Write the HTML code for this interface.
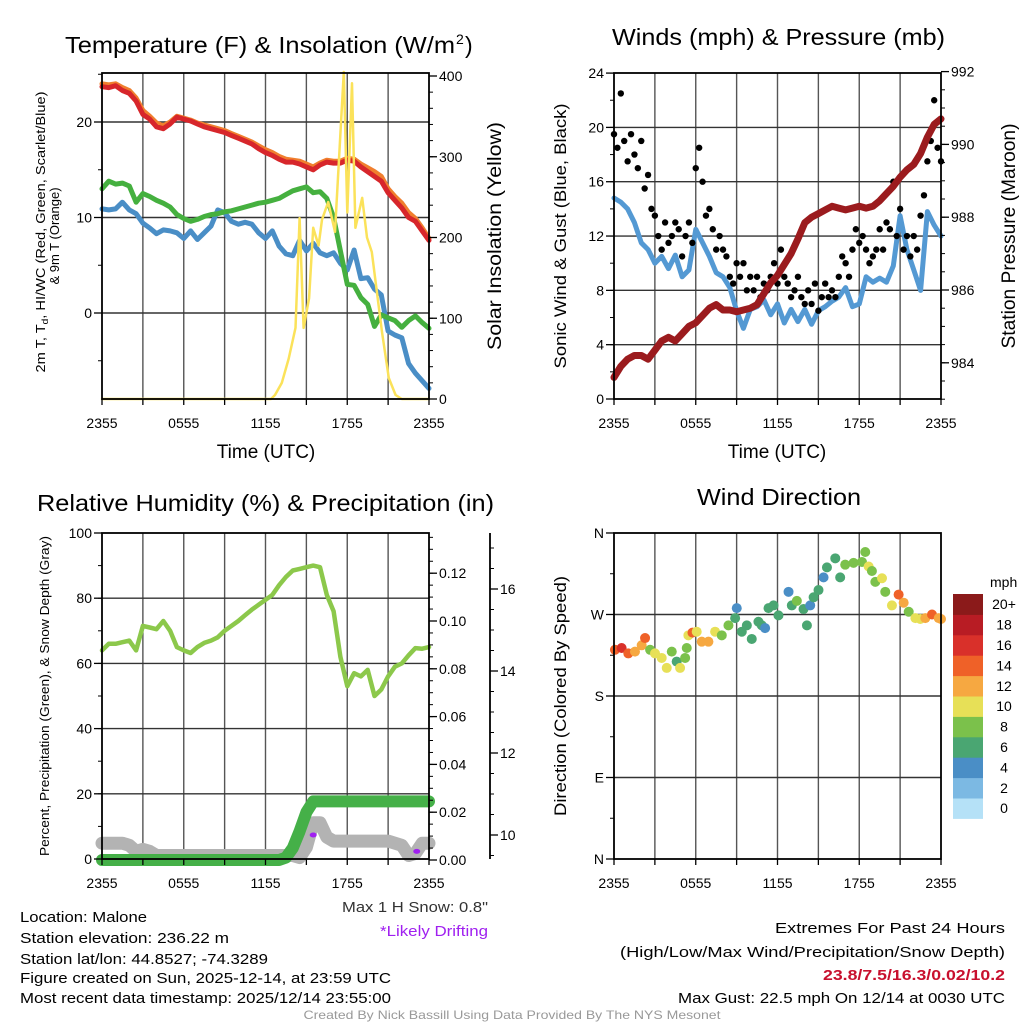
<!DOCTYPE html>
<html><head><meta charset="utf-8"><style>
html,body{margin:0;padding:0;background:#fff;}
svg{display:block;font-family:"Liberation Sans",Arial,sans-serif;}
</style></head><body>
<svg id="root" width="1024" height="1024" viewBox="0 0 1024 1024" xmlns="http://www.w3.org/2000/svg">
<rect width="1024" height="1024" fill="#fff"/>
<g id="layer-grid"></g>
<g id="layer-data"></g>
<g id="layer-axes"></g>
<g fill="#000">
<text x="65" y="53" font-size="23" textLength="390" lengthAdjust="spacingAndGlyphs">Temperature (F) &amp; Insolation (W/m</text>
<text x="456" y="44" font-size="14">2</text>
<text x="465" y="53" font-size="23">)</text>
<text x="612" y="45" font-size="23" textLength="333" lengthAdjust="spacingAndGlyphs">Winds (mph) &amp; Pressure (mb)</text>
<text x="37" y="511" font-size="23" textLength="457" lengthAdjust="spacingAndGlyphs">Relative Humidity (%) &amp; Precipitation (in)</text>
<text x="697" y="505" font-size="23" textLength="164" lengthAdjust="spacingAndGlyphs">Wind Direction</text>
</g>
<g fill="#000">
<text x="266" y="458" font-size="19" text-anchor="middle">Time (UTC)</text>
<text x="777" y="458" font-size="19" text-anchor="middle">Time (UTC)</text>
<text transform="translate(45,232) rotate(-90)" font-size="13" text-anchor="middle" textLength="281" lengthAdjust="spacingAndGlyphs">2m T, T<tspan font-size="9" dy="3">d</tspan><tspan dy="-3">, HI/WC (Red, Green, Scarlet/Blue)</tspan></text>
<text transform="translate(59,236) rotate(-90)" font-size="13" text-anchor="middle">&amp; 9m T (Orange)</text>
<text transform="translate(501,236) rotate(-90)" font-size="19" text-anchor="middle" textLength="228" lengthAdjust="spacingAndGlyphs">Solar Insolation (Yellow)</text>
<text transform="translate(566,236) rotate(-90)" font-size="17" text-anchor="middle" textLength="265" lengthAdjust="spacingAndGlyphs">Sonic Wind &amp; Gust (Blue, Black)</text>
<text transform="translate(1015,236) rotate(-90)" font-size="19" text-anchor="middle" textLength="225" lengthAdjust="spacingAndGlyphs">Station Pressure (Maroon)</text>
<text transform="translate(49,696) rotate(-90)" font-size="13" text-anchor="middle" textLength="320" lengthAdjust="spacingAndGlyphs">Percent, Precipitation (Green), &amp; Snow Depth (Gray)</text>
<text transform="translate(566,696) rotate(-90)" font-size="17" text-anchor="middle" textLength="240" lengthAdjust="spacingAndGlyphs">Direction (Colored By Speed)</text>
</g>
<g font-size="15" fill="#000">
<text x="488" y="912" text-anchor="end" fill="#333" textLength="146" lengthAdjust="spacingAndGlyphs">Max 1 H Snow: 0.8"</text>
<text x="488" y="936" text-anchor="end" fill="#a020f0" textLength="108" lengthAdjust="spacingAndGlyphs">*Likely Drifting</text>
<text x="20" y="922" textLength="127" lengthAdjust="spacingAndGlyphs">Location: Malone</text>
<text x="20" y="943" textLength="209" lengthAdjust="spacingAndGlyphs">Station elevation: 236.22 m</text>
<text x="20" y="964" textLength="248" lengthAdjust="spacingAndGlyphs">Station lat/lon: 44.8527; -74.3289</text>
<text x="20" y="983" textLength="371" lengthAdjust="spacingAndGlyphs">Figure created on Sun, 2025-12-14, at 23:59 UTC</text>
<text x="20" y="1003" textLength="371" lengthAdjust="spacingAndGlyphs">Most recent data timestamp: 2025/12/14 23:55:00</text>
<text x="1005" y="933" text-anchor="end" textLength="230" lengthAdjust="spacingAndGlyphs">Extremes For Past 24 Hours</text>
<text x="1005" y="957" text-anchor="end" textLength="385" lengthAdjust="spacingAndGlyphs">(High/Low/Max Wind/Precipitation/Snow Depth)</text>
<text x="1005" y="980" text-anchor="end" fill="#c8102e" font-weight="bold" textLength="182" lengthAdjust="spacingAndGlyphs">23.8/7.5/16.3/0.02/10.2</text>
<text x="1005" y="1003" text-anchor="end" textLength="327" lengthAdjust="spacingAndGlyphs">Max Gust: 22.5 mph On 12/14 at 0030 UTC</text>
<text x="512" y="1019" text-anchor="middle" font-size="12" fill="#999" textLength="417" lengthAdjust="spacingAndGlyphs">Created By Nick Bassill Using Data Provided By The NYS Mesonet</text>
</g>
</svg>
<script>
// ---------- DATA (30-minute steps starting 2355 UTC) ----------
const xTickLabels = ["2355","0555","1155","1755","2355"];
const tempF = [23.7,23.6,23.8,23.3,23,22.2,20.8,20.3,19.5,19.3,19.8,20.5,20.3,20.1,19.8,19.5,19.3,19.1,18.9,18.6,18.3,18.0,17.7,17.2,16.8,16.5,16.1,15.8,15.8,15.6,15.3,15.0,15.5,15.8,15.7,15.7,16.0,15.9,15.3,14.8,14.3,13.8,12.6,11.8,11.0,10.0,9.6,8.6,7.6];
const temp9mF = [24.0,23.9,24.0,23.6,23.3,22.5,21.2,20.6,19.9,19.6,20.0,20.6,20.4,20.2,19.9,19.7,19.5,19.3,19.1,18.8,18.5,18.2,17.9,17.5,17.1,16.8,16.4,16.1,16.0,15.9,15.6,15.3,15.7,16.0,15.9,15.9,16.2,16.1,15.6,15.2,14.8,14.3,13.0,12.2,11.5,10.5,9.9,8.9,7.8];
const dewpointF = [13.0,13.8,13.5,13.6,13.3,11.6,12.5,12.2,11.8,11.5,11.1,10.3,9.9,9.6,9.8,10.1,10.3,10.4,10.6,10.7,10.9,11.1,11.3,11.5,11.6,11.8,12.0,12.4,12.8,13.0,13.2,12.6,12.7,12.0,10.0,6.5,3.0,2.9,1.6,0.9,-1.4,-0.2,-0.5,-0.8,-1.5,-0.8,-0.3,-1.0,-1.6];
const windChillF = [10.9,10.8,10.9,11.6,10.8,10.4,9.4,8.9,8.3,8.7,8.6,8.4,7.8,8.6,7.7,8.4,9.1,10.8,10.5,9.6,9.3,9.5,9.3,8.4,7.8,8.6,7.0,6.2,6.0,7.6,6.5,7.3,6.3,6.0,6.3,5.2,4.5,6.6,3.6,3.7,2.5,1.9,-1.9,-2.3,-2.6,-5.3,-6.3,-7.1,-7.9];
const solarHours = [0,12.4,12.7,13.2,13.7,14.2,14.5,14.8,15.2,15.5,15.9,16.15,16.6,17.1,17.75,18.0,18.35,18.6,19.1,19.45,19.8,20.55,21.05,21.55,22.0,24];
const solarWm2 = [0,0,5,20,50,88,224,88,125,212,190,222,244,207,405,231,391,212,249,200,182,83,26,5,0,0];

const windMph = [14.8,14.5,14.0,13.0,11.5,11.0,10.0,10.5,9.6,10.6,9.0,9.5,12.5,11.5,10.5,9.3,9.0,8.2,6.5,5.2,6.6,6.8,7.3,6.2,7.0,5.6,6.6,5.7,6.6,5.5,6.5,6.8,7.2,7.5,8.2,6.8,7.0,9.0,8.6,8.9,8.6,9.8,13.5,11.0,9.5,8.0,13.8,12.8,12.0];
const pressureMb = [983.6,983.9,984.1,984.2,984.2,984.1,984.35,984.6,984.7,984.6,984.8,985.0,985.1,985.3,985.5,985.6,985.45,985.45,985.4,985.45,985.5,985.6,985.9,986.2,986.4,986.7,987.0,987.4,987.85,988.0,988.1,988.2,988.3,988.25,988.2,988.25,988.3,988.25,988.3,988.45,988.65,988.85,989.1,989.3,989.45,989.75,990.2,990.55,990.7];
// gusts every 15 minutes
const gustMph = [19.5,18.5,22.5,19,17.5,19.5,18,17,19,15.5,16.5,14,13.5,12,11,13,11.5,12,13,12.5,10.5,12,13,11.5,17,18.5,16,13.5,14,12.5,11,12,11,10.5,9,8.5,10,9,10,8,9,8,9,7.5,8.5,8,9,10,8.5,11,9,8.5,7.5,8,9,7.5,7,8,7,8.5,6.5,7.5,8.5,7.5,8,7.5,9,10.5,10,9,11,12.5,11.5,12,11,10,10.5,11,12.5,11,13,12.5,16,12,14,11,12,10.5,12,11,13.5,15,17.5,19,22,18.5,17.5];

const rhPct = [64,66,66,66.5,67,64,71.5,71,70.5,73,70,65,64,63.2,65,66.3,67,68,70,71.5,73,74.8,76.5,78,79.5,81,84,86.5,88.5,89,89.5,90,89.5,81,76,62,53,57,56,58,50,52,56,59,60,62.5,64.7,64.5,65];
const precipIn = [0,0,0,0,0,0,0,0,0,0,0,0,0,0,0,0,0,0,0,0,0,0,0,0,0,0,0,0.001,0.005,0.012,0.02,0.0245,0.0245,0.0245,0.0245,0.0245,0.0245,0.0245,0.0245,0.0245,0.0245,0.0245,0.0245,0.0245,0.0245,0.0245,0.0245,0.0245,0.0245];
const snowIn = [9.8,9.8,9.8,9.8,9.75,9.6,9.65,9.6,9.5,9.5,9.5,9.5,9.5,9.5,9.5,9.5,9.5,9.5,9.5,9.5,9.5,9.5,9.5,9.5,9.5,9.5,9.5,9.5,9.5,9.45,9.7,10.3,10.3,9.95,9.85,9.85,9.85,9.85,9.85,9.85,9.85,9.85,9.85,9.8,9.75,9.5,9.55,9.8,9.8];
const driftHours = [15.5,23.1];
const driftIn = [10.0,9.6];

const dirHours = [0.07,0.56,1.05,1.54,2.03,2.28,2.65,3.01,3.5,3.87,4.24,4.6,4.85,5.22,5.34,5.46,5.76,6.07,6.44,6.93,7.42,7.91,8.4,8.89,9.01,9.38,9.75,10.11,10.6,10.85,11.09,11.34,11.71,12.07,12.81,13.05,13.42,13.91,14.16,14.4,14.65,15.01,15.38,15.63,16.24,16.6,16.97,17.58,18.2,18.44,18.69,18.93,19.18,19.67,19.91,20.4,20.89,21.26,21.63,22.12,22.48,22.85,23.34,23.83,24];
const dirDeg = [231,233,227,229,236,244,231,227,222,211,229,218,211,222,233,247,250,251,240,240,251,247,258,266,277,251,258,243,262,258,255,277,280,269,295,280,285,276,258,280,289,297,311,322,332,311,325,327,328,339,323,318,306,310,295,280,292,283,273,266,265,266,270,266,265];
const dirSpeed = [15,17,14,12,12,14,9,10,10,10,8,7,10,8,8,10,14,10,12,12,10,8,8,7,4,6,6,6,7,6,4,6,6,6,4,6,8,6,6,4,6,6,4,6,6,6,8,8,8,8,10,8,8,10,8,10,15,12,8,10,10,12,15,13,12];
const speedBinLabels = ["0","2","4","6","8","10","12","14","16","18","20+"];
const speedBinColors = ["#b5e1f7","#7cb9e3","#4a8ec6","#4aa672","#7bc14b","#e7e057","#f6a841","#ef6128","#d9302a","#b81c24","#8b1a1a"];

const tempTicks = [0,10,20];
const solarTicks = [0,100,200,300,400];
const windTicks = [0,4,8,12,16,20,24];
const pressTicks = [984,986,988,990,992];
const rhTicks = [0,20,40,60,80,100];
const precipTicks = [0,0.02,0.04,0.06,0.08,0.10,0.12];
const snowTicks = [10,12,14,16];
const dirTicks = [0,90,180,270,360];
const dirTickLabels = ["N","E","S","W","N"];

// ---------- SCALES ----------
const NS = "http://www.w3.org/2000/svg";
const gGrid = document.getElementById("layer-grid");
const gData = document.getElementById("layer-data");
const gAxes = document.getElementById("layer-axes");
function mk(tag, attrs, parent){
  const e = document.createElementNS(NS, tag);
  for (const k in attrs) e.setAttribute(k, attrs[k]);
  parent.appendChild(e);
  return e;
}
const L = {x0:102, x1:429}, R = {x0:614, x1:941};
const TOPR = {y0:73, y1:399}, BOTR = {y0:533, y1:859};
function xTime(p, h){ return p.x0 + h/24*(p.x1-p.x0); }
function idxHour(i){ return i*0.5; }
const yTemp = v => 313 - v*9.55;
const ySolar = v => 399 - v*0.8075;
const yWind = v => 399 - v*13.58;
const yPress = p => 290 - (p-986)*36.4;
const yRH = v => 859 - v*3.26;
const yPrecip = v => 860 - v*2390;
const ySnow = s => 835 - (s-10)*41;
const yDir = d => 859 - d*0.9056;

// ---------- FRAMES & GRIDS ----------
function panel(p, yr, name){
  for (let h=3; h<24; h+=3){
    const x = xTime(p,h);
    const ln = mk("line",{x1:x,x2:x,y1:yr.y0,y2:yr.y1,stroke:"#555","stroke-width":1.4},gGrid);
    
    
  }
  for (let h=0; h<=24; h+=3){
    const x = xTime(p,h);
    const tk = mk("line",{x1:x,x2:x,y1:yr.y1,y2:yr.y1+6,stroke:"#000","stroke-width":1.3},gAxes);
    
    
  }
  xTickLabels.forEach((lab,k)=>{
    const t = mk("text",{x:xTime(p,k*6),y:yr.y1+29,"font-size":14,"text-anchor":"middle"},gAxes);
    t.textContent = lab;
    
    
  });
  const fr = mk("rect",{x:p.x0,y:yr.y0,width:p.x1-p.x0,height:yr.y1-yr.y0,fill:"none",stroke:"#000","stroke-width":1.8},gAxes);
  
  
}
function hgrid(p, yr, ys, name){
  ys.forEach(y=>{
    if (y<=yr.y0+1 || y>=yr.y1-1) return;
    const ln = mk("line",{x1:p.x0,x2:p.x1,y1:y,y2:y,stroke:"#333","stroke-width":1.4},gGrid);
    
    
  });
}
function yTicks(x, dir, vals, fy, labels, minorStep, yr, name){
  vals.forEach((v,k)=>{
    const y = fy(v);
    const tk = mk("line",{x1:x,x2:x+dir*8,y1:y,y2:y,stroke:"#000","stroke-width":1.3},gAxes);
    
    
    const t = mk("text",{x:x+dir*10,y:y+5,"font-size":14,"text-anchor":dir<0?"end":"start"},gAxes);
    t.textContent = labels ? labels[k] : String(v);
    
    
  });
  if (minorStep){
    const lo = Math.min(...vals) - 20*minorStep, hi = Math.max(...vals) + 20*minorStep;
    for (let v=lo; v<=hi+1e-9; v+=minorStep){
      const y = fy(v);
      if (y < yr.y0-0.5 || y > yr.y1+0.5) continue;
      const tk = mk("line",{x1:x,x2:x+dir*4,y1:y,y2:y,stroke:"#000","stroke-width":1},gAxes);
      
      
    }
  }
}
panel(L, TOPR, "temperature");
panel(R, TOPR, "winds");
panel(L, BOTR, "humidity");
panel(R, BOTR, "direction");
hgrid(L, TOPR, tempTicks.map(yTemp), "temperature");
hgrid(R, TOPR, windTicks.map(yWind), "winds");
hgrid(L, BOTR, rhTicks.map(yRH), "humidity");
hgrid(R, BOTR, dirTicks.map(yDir), "direction");
yTicks(L.x0,-1,tempTicks,yTemp,null,5,TOPR,"temperature-y");
yTicks(L.x1,1,solarTicks,ySolar,null,20,TOPR,"solar-y");
yTicks(R.x0,-1,windTicks,yWind,null,2,TOPR,"wind-y");
yTicks(R.x1,1,pressTicks,yPress,null,0.5,TOPR,"pressure-y");
yTicks(L.x0,-1,rhTicks,yRH,null,10,BOTR,"humidity-y");
yTicks(L.x1,1,precipTicks,yPrecip,precipTicks.map(v=>v.toFixed(2)),0.005,BOTR,"precip-y");
yTicks(R.x0,-1,dirTicks,yDir,dirTickLabels,45,BOTR,"direction-y");
const snowAxis = mk("line",{x1:490,x2:490,y1:533,y2:859,stroke:"#000","stroke-width":1.8},gAxes);


yTicks(490,1,snowTicks,ySnow,null,0.5,BOTR,"snow-y");

// ---------- SERIES ----------
function pathFrom(xs, ys){ return xs.map((x,i)=>(i?"L":"M")+x.toFixed(1)+","+ys[i].toFixed(1)).join(" "); }
function line(arr, p, fy, color, w, name, hours){
  const xs = arr.map((v,i)=>xTime(p, hours ? hours[i] : idxHour(i)));
  const ys = arr.map(fy);
  const el = mk("path",{d:pathFrom(xs,ys),fill:"none",stroke:color,"stroke-width":w,"stroke-linejoin":"round","stroke-linecap":"round"},gData);
  
  
  return el;
}
line(windChillF, L, yTemp, "#4a8ec6", 5, "wind-chill-line");
line(dewpointF, L, yTemp, "#45b03f", 5, "dewpoint-line");
line(temp9mF, L, yTemp, "#f07f2e", 5, "temperature-9m-line");
line(tempF, L, yTemp, "#d7262b", 5, "temperature-2m-line");
line(solarWm2, L, ySolar, "#fbe25a", 2.5, "solar-insolation-line", solarHours);

line(windMph, R, yWind, "#5499d3", 5, "sonic-wind-line");
gustMph.forEach((g,j)=>{
  const c = mk("circle",{cx:xTime(R, j*0.25),cy:yWind(g),r:3.2,fill:"#000"},gData);
  
  
});
line(pressureMb, R, yPress, "#9b1b1e", 7, "pressure-line");

line(rhPct, L, yRH, "#8cc84b", 4.5, "relative-humidity-line");
line(snowIn, L, ySnow, "#b3b3b3", 13, "snow-depth-line");
line(precipIn, L, yPrecip, "#45b048", 12, "precipitation-line");
driftIn.forEach((s,k)=>{
  const e = mk("ellipse",{cx:xTime(L, driftHours[k]),cy:ySnow(s),rx:3.5,ry:2.5,fill:"#a020f0"},gData);
  
  
});

dirDeg.forEach((d,k)=>{
  const bin = Math.min(10, Math.floor(dirSpeed[k]/2));
  const c = mk("circle",{cx:xTime(R, dirHours[k]),cy:yDir(d),r:5,fill:speedBinColors[bin]},gData);
  
  
});

// ---------- COLORBAR ----------
const cbTop = 594, cbH = 20.4;
const cbTitle = mk("text",{x:990,y:587,"font-size":14},gAxes);
cbTitle.textContent = "mph";


speedBinLabels.forEach((lab,k)=>{
  const y = cbTop + (10-k)*cbH;
  const r = mk("rect",{x:953,y:y,width:30,height:cbH+0.5,fill:speedBinColors[k]},gAxes);
  
  
  const t = mk("text",{x:1004,y:y+cbH/2+5,"font-size":14,"text-anchor":"middle"},gAxes);
  t.textContent = lab;
  
  
});
</script>
</body></html>
